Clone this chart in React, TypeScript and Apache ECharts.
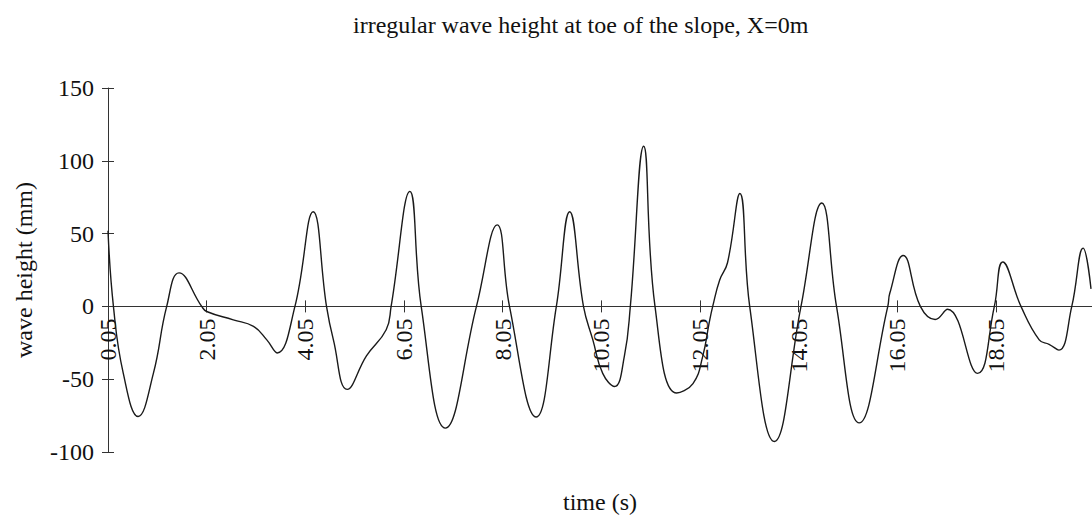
import React, { useEffect, useRef } from "react";
import * as echarts from "echarts";

const TITLE = "irregular wave height at toe of the slope, X=0m";
const X_NAME = "time (s)";
const Y_NAME = "wave height (mm)";

// time (s) of the read-off points
const TIMES = [
  0.05, 0.16, 0.36, 0.66, 0.97, 1.24, 1.49, 1.95, 2.05, 2.59, 3.0, 3.27, 3.48, 3.84,
  4.21, 4.48, 4.62, 4.9, 5.29, 5.69, 5.79, 6.17, 6.4, 6.89, 7.52, 7.94, 8.19, 8.73,
  9.14, 9.41, 9.69, 9.88, 10.08, 10.32, 10.52, 10.64, 10.91, 11.14, 11.58, 11.91,
  12.11, 12.24, 12.31, 12.45, 12.61, 12.86, 13.06, 13.56, 14.1, 14.52, 14.82, 15.28,
  15.86, 15.9, 16.17, 16.52, 16.82, 17.07, 17.68, 18.02, 18.19, 18.56, 18.93, 19.13,
  19.33, 19.59, 19.82, 19.98,
];

// wave height (mm) at those times
const HEIGHTS = [
  52, 0, -46, -75.6, -46, 0, 23, 0, -3.5, -9.2, -13.7, -23, -32, 0,
  65, 0, -23, -57, -34, -16, 0, 79, 0, -83.6, 0, 56, 0, -76,
  0, 65, 0, -23, -46, -55, -34, 0, 110, 0, -59.5, -53,
  -34, -11, 0, 18, 30, 77.5, 0, -92.8, 0, 71, 0, -80,
  0, 9, 35, 0, -9, -2, -46, 0, 30.5, 0, -23, -26,
  -30, 0, 40, 12,
];

const X_TICKS = [0.05, 2.05, 4.05, 6.05, 8.05, 10.05, 12.05, 14.05, 16.05, 18.05];
const X_MIN = 0.05;
const X_MAX = 20.0;
const Y_MIN = -100;
const Y_MAX = 150;
const Y_STEP = 50;

const CHART_W = 1092;
const CHART_H = 521;
const GRID = { left: 108, right: 0, top: 88, bottom: 69 };

const FONT = "'Liberation Serif', 'DejaVu Serif', serif";
const AXIS_COLOR = "#333";
const TEXT_COLOR = "#111";

export default function App() {
  const ref = useRef<HTMLDivElement>(null);

  useEffect(() => {
    if (!ref.current) return;
    const chart = echarts.init(ref.current, undefined, { renderer: "svg" });
    const data = TIMES.map((t, i) => [t, HEIGHTS[i]]);
    const textStyle = { fontFamily: FONT, fontSize: 24, color: TEXT_COLOR };
    // place the category (time) axis on the zero line of the value axis
    const gridH = CHART_H - GRID.top - GRID.bottom;
    const zeroFromBottom = ((0 - Y_MIN) / (Y_MAX - Y_MIN)) * gridH;
    const xOffset = -zeroFromBottom;
    chart.setOption({
      animation: false,
      backgroundColor: "#fff",
      title: {
        text: TITLE,
        left: 348,
        top: 8,
        textStyle: { ...textStyle, fontWeight: "normal" },
      },
      grid: { ...GRID, containLabel: false, outerBoundsMode: "none" },
      xAxis: [
        {
          type: "value",
          min: X_MIN,
          max: X_MAX,
          position: "bottom",
          offset: xOffset,
          axisLine: { show: true, onZero: false, lineStyle: { color: AXIS_COLOR, width: 1 } },
          axisTick: { show: true, customValues: X_TICKS, length: 6, lineStyle: { color: AXIS_COLOR } },
          axisLabel: {
            customValues: X_TICKS,
            rotate: 90,
            margin: 12,
            formatter: (v: number) => v.toFixed(2),
            ...textStyle,
          },
          splitLine: { show: false },
          name: X_NAME,
          nameLocation: "middle",
          nameGap: 184,
          nameTextStyle: textStyle,
        },
        {
          type: "value",
          min: X_MIN,
          max: X_MAX,
          position: "bottom",
          offset: xOffset,
          axisLine: { show: false, onZero: false },
          axisTick: { show: true, inside: true, customValues: X_TICKS, length: 6, lineStyle: { color: AXIS_COLOR } },
          axisLabel: { show: false },
          splitLine: { show: false },
        },
      ],
      yAxis: [
        {
          type: "value",
          min: Y_MIN,
          max: Y_MAX,
          interval: Y_STEP,
          position: "left",
          axisLine: { show: true, onZero: false, lineStyle: { color: AXIS_COLOR, width: 1 } },
          axisTick: { show: true, length: 6, lineStyle: { color: AXIS_COLOR } },
          axisLabel: { margin: 14, ...textStyle },
          splitLine: { show: false },
          name: Y_NAME,
          nameLocation: "middle",
          nameGap: 72,
          nameTextStyle: textStyle,
        },
        {
          type: "value",
          min: Y_MIN,
          max: Y_MAX,
          interval: Y_STEP,
          position: "left",
          axisLine: { show: false, onZero: false },
          axisTick: { show: true, inside: true, length: 6, lineStyle: { color: AXIS_COLOR } },
          axisLabel: { show: false },
          splitLine: { show: false },
        },
      ],
      series: [
        {
          type: "line",
          xAxisIndex: 0,
          yAxisIndex: 0,
          data,
          smooth: 0.45,
          showSymbol: false,
          symbol: "none",
          lineStyle: { color: "#1a1a1a", width: 1.4 },
          clip: true,
        },
      ],
    });
    return () => chart.dispose();
  }, []);

  return (
    <div
      ref={ref}
      style={{ position: "absolute", left: 0, top: 0, width: CHART_W, height: CHART_H, background: "#fff" }}
    />
  );
}
